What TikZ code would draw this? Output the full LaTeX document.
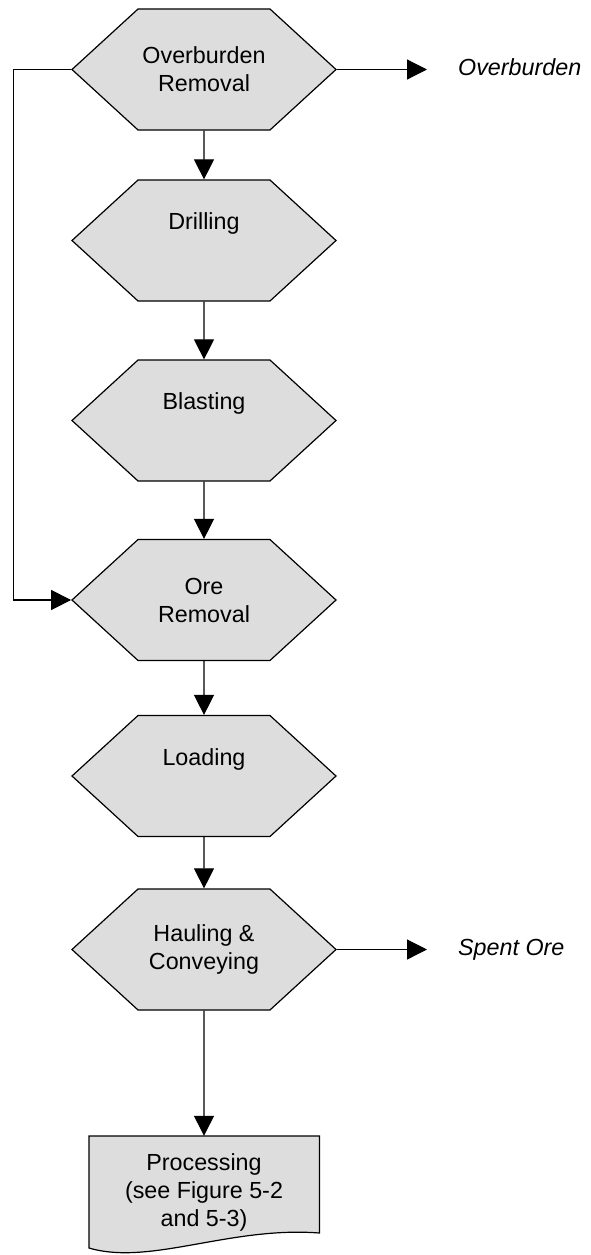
\documentclass[tikz,border=0pt]{standalone}
\usepackage{fontspec}
\setmainfont{Liberation Sans}
\usetikzlibrary{arrows.meta,shapes.symbols,backgrounds}
\definecolor{boxgray}{HTML}{DDDDDD}

\begin{document}
\begin{tikzpicture}[x=1pt,y=-1pt,
        font=\fontsize{23.3pt}{28pt}\selectfont,
        flow/.style={line width=1.2pt,-{Triangle[length=20pt,width=20pt]}},
        hexbox/.style={signal,signal to=west and east,signal pointer angle=85,
            draw,line width=1.2pt,fill=boxgray,minimum width=264pt,
            minimum height=121pt,inner sep=0pt,align=center},
        oneline/.style={text depth=38pt},
        outtext/.style={font=\fontsize{23.3pt}{28pt}\selectfont\itshape,
            anchor=west,inner xsep=31pt,inner ysep=0pt,
            text height=17pt,text depth=5pt}]
        \useasboundingbox (0,0) rectangle (591,1255);
        % process steps
        \node[hexbox] (over) at (204,69.5) {Overburden\\Removal};
        \node[hexbox,oneline] (drill) at (204,240.5) {Drilling};
        \node[hexbox,oneline] (blast) at (204,420.5) {Blasting};
        \node[hexbox] (ore) at (204,600) {Ore\\Removal};
        \node[hexbox,oneline] (load) at (204,776) {Loading};
        \node[hexbox] (haul) at (204,949.5) {Hauling \&\\Conveying};
        \node[align=center,inner sep=0pt,minimum height=112pt] (proc) at (204,1192)
            {Processing\\(see Figure 5-2\\and 5-3)};
        \begin{scope}[on background layer]
            \draw[line width=1.2pt,fill=boxgray] (89,1136) -- (319.5,1136) -- (319.5,1233)
                .. controls (230,1226) and (150,1266) .. (89,1248) -- cycle;
        \end{scope}
        % outputs
        \node[outtext] (obout) at (427,69.5) {Overburden};
        \node[outtext] (spent) at (427,949.5) {Spent Ore};
        % connectors
        \draw[flow] (over) -- (drill);
        \draw[flow] (drill) -- (blast);
        \draw[flow] (blast) -- (ore);
        \draw[flow] (ore) -- (load);
        \draw[flow] (load) -- (haul);
        \draw[flow] (haul) -- (proc.north);
        \draw[flow] (over.east) -- (obout.west);
        \draw[flow] (haul.east) -- (spent.west);
        \draw[flow] (over.west) -- ++(-58pt,0) |- (ore.west);
    \end{tikzpicture}
\end{document}
